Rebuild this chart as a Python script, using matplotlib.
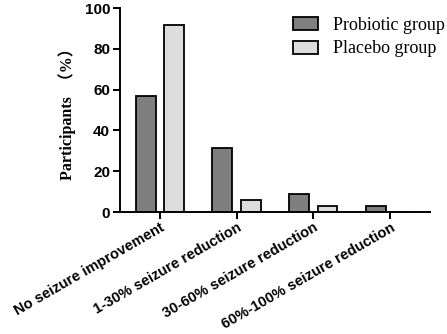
import matplotlib.pyplot as plt
import numpy as np

categories = ['No seizure improvement', '1-30% seizure reduction',
              '30-60% seizure reduction', '60%-100% seizure reduction']
probiotic = [57, 31.5, 8.7, 2.9]
placebo = [91.5, 5.7, 2.9, 0]

fig = plt.figure(figsize=(4.47, 3.34), dpi=100)
ax = fig.add_axes([0.268, 0.365, 0.694, 0.611])

x = np.arange(len(categories))
w = 0.26
ax.bar(x - 0.185, probiotic, w, color='#7f7f7f', edgecolor='black', linewidth=1.3,
       label='Probiotic group')
ax.bar(x + 0.185, placebo, w, color='#dcdcdc', edgecolor='black', linewidth=1.3,
       label='Placebo group')

ax.set_xlim(-0.52, 3.52)
ax.set_ylim(0, 100)
ax.set_yticks([0, 20, 40, 60, 80, 100])
ax.set_xticks(x)
ax.set_xticklabels(categories, rotation=30, ha='right', rotation_mode='anchor',
                   fontsize=10.5, fontweight='bold', family='Liberation Sans')
for lab in ax.get_yticklabels():
    lab.set_fontsize(11)
    lab.set_fontweight('bold')
    lab.set_family('Liberation Sans')

for s in ['top', 'right']:
    ax.spines[s].set_visible(False)
for s in ['left', 'bottom']:
    ax.spines[s].set_linewidth(1.4)
ax.tick_params(width=1.4, length=5, pad=2)
ax.tick_params(axis='x', pad=1)

ax.set_ylabel('Participants  （%）', fontsize=11.5, fontweight='bold',
              family=['Liberation Serif', 'Noto Sans CJK SC'], labelpad=6)

ax.legend(loc='upper right', bbox_to_anchor=(1.1, 1.035), frameon=False,
          prop={'family': 'Liberation Serif', 'size': 13},
          handlelength=1.4, handleheight=0.75, handletextpad=0.8,
          labelspacing=0.35)

plt.savefig('out.png', dpi=100)
